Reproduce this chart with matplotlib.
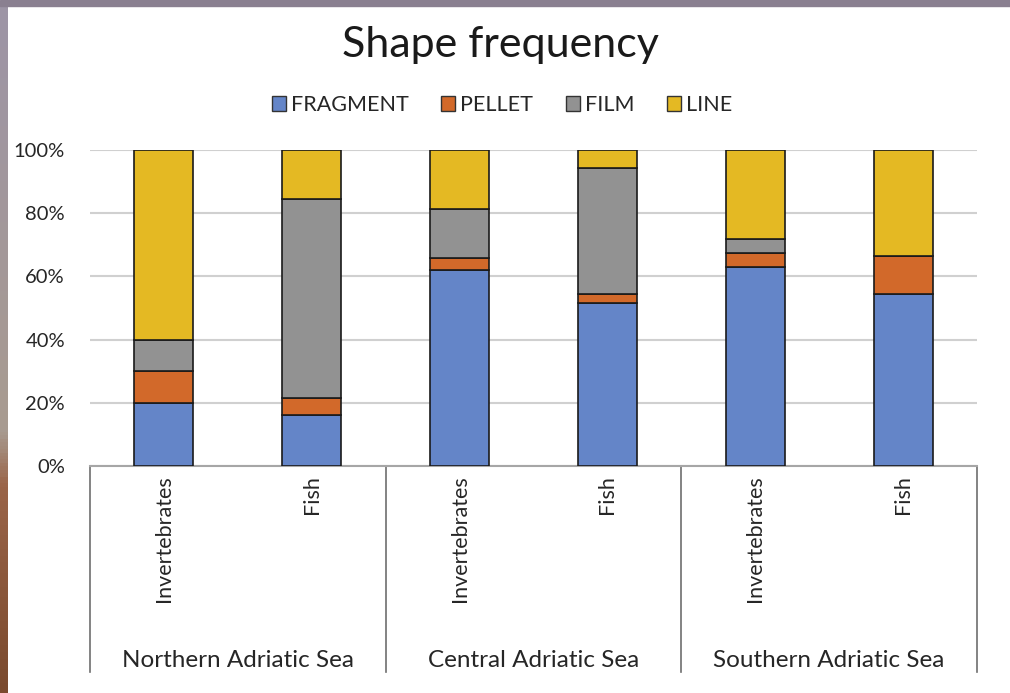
import numpy as np
import matplotlib.pyplot as plt
from matplotlib.patches import Rectangle, Patch
from matplotlib.colors import LinearSegmentedColormap

# -------------------------------- Data --------------------------------
regions = ["Northern Adriatic Sea", "Central Adriatic Sea", "Southern Adriatic Sea"]
groups = ["Invertebrates", "Fish", "Invertebrates", "Fish", "Invertebrates", "Fish"]

fragment = [20.0, 16.0, 62.0, 51.5, 63.0, 54.4]
pellet = [10.0, 5.5, 3.7, 3.0, 4.4, 12.2]
film = [10.0, 63.0, 15.5, 39.8, 4.5, 0.0]
line = [60.0, 15.5, 18.8, 5.7, 28.1, 33.4]

series = [("FRAGMENT", fragment, "#6485c8"),
          ("PELLET", pellet, "#d2692a"),
          ("FILM", film, "#929292"),
          ("LINE", line, "#e4b923")]

plt.rcParams['font.family'] = ['Lato', 'DejaVu Sans']

# -------------------------------- Figure --------------------------------
fig = plt.figure(figsize=(10.10, 6.93), dpi=100, facecolor='white')

# photo-like frame: strip on top and gradient on the left
fig.patches.append(Rectangle((0, 1 - 6 / 693), 1, 6 / 693, transform=fig.transFigure,
                             color='#8a8090', zorder=0))
edge = fig.add_axes([0, 0, 8 / 1010, 1 - 6 / 693])
cmap = LinearSegmentedColormap.from_list('edge', [(0, '#9d95a6'), (0.62, '#a89b90'),
                                                  (0.7, '#9a6448'), (1, '#7a4a2e')])
edge.imshow(np.linspace(0, 1, 200)[:, None], aspect='auto', cmap=cmap)
edge.axis('off')

ax = fig.add_axes([90 / 1010, (693 - 466) / 693, (977 - 90) / 1010, 316 / 693])

x = np.arange(len(groups))
bottom = np.zeros(len(groups))
for name, vals, col in series:
    ax.bar(x, vals, 0.4, bottom=bottom, color=col, edgecolor='#1a1a1a', linewidth=1.2,
           label=name, zorder=3)
    bottom += np.array(vals)

ax.set_xlim(-0.5, 5.5)
ax.set_ylim(0, 100)
ax.set_yticks([0, 20, 40, 60, 80, 100])
ax.set_yticklabels([f"{v}%" for v in [0, 20, 40, 60, 80, 100]], fontsize=14.5, color='#262626')
ax.tick_params(axis='y', length=0, pad=18)
ax.set_xticks([])
ax.yaxis.grid(True, color='#d0d0d0', linewidth=1.5, zorder=0)
for s in ['top', 'right', 'left']:
    ax.spines[s].set_visible(False)
ax.spines['bottom'].set_color('#a6a6a6')
ax.spines['bottom'].set_linewidth(1.5)

# category labels
for i, g in enumerate(groups):
    ax.text(i, -0.028, g, rotation=90, ha='center', va='top', fontsize=15.5,
            color='#262626', transform=ax.get_xaxis_transform(), clip_on=False)

# region labels and separators
for k, r in enumerate(regions):
    ax.text(2 * k + 0.5, -0.614, r, ha='center', va='center', fontsize=17.5,
            color='#262626', transform=ax.get_xaxis_transform(), clip_on=False)
for xs in [-0.5, 1.5, 3.5, 5.5]:
    ax.plot([xs, xs], [0, -0.652], color='#6e6e6e', linewidth=1.2,
            transform=ax.get_xaxis_transform(), clip_on=False)

fig.text(0.495, 1 - 45 / 693, "Shape frequency", ha='center', va='center', fontsize=31,
         color='#1a1a1a')

handles = [Patch(facecolor=c, edgecolor='#333333', label=n) for n, _, c in series]
fig.legend(handles=handles, loc='center', bbox_to_anchor=(0.497, 1 - 105 / 693), ncol=4,
           frameon=False, fontsize=15.5, handlelength=0.65, handleheight=0.65,
           handletextpad=0.25, columnspacing=1.5, labelcolor='#262626')

fig.savefig('out.png', dpi=100, facecolor='white')
